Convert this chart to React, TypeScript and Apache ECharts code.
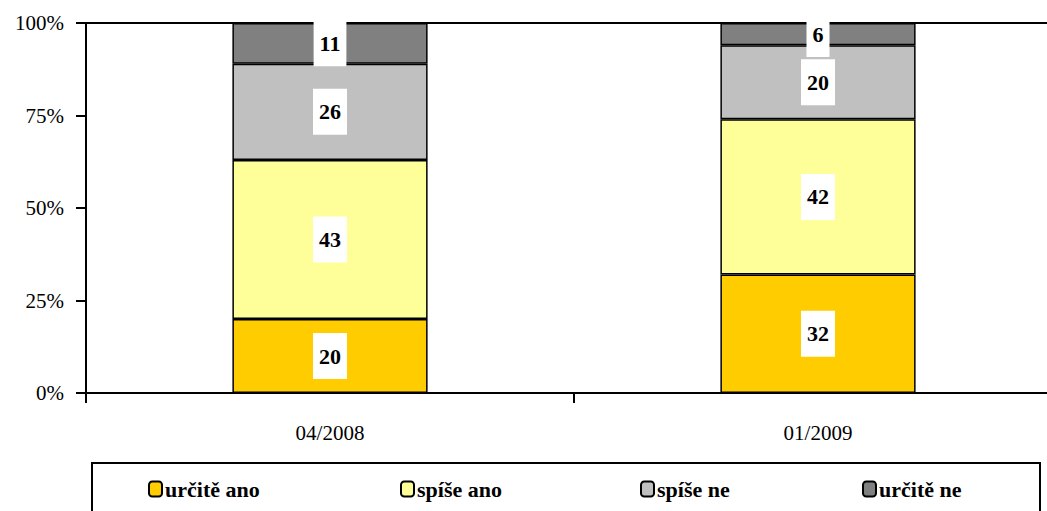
import React, { useEffect, useRef } from "react";
import * as echarts from "echarts";

const categories = ["04/2008", "01/2009"];
const seriesNames = ["určitě ano", "spíše ano", "spíše ne", "určitě ne"];
const urciteAno = [20, 32];
const spiseAno = [43, 42];
const spiseNe = [26, 20];
const urciteNe = [11, 6];
const yTicks = [0, 25, 50, 75, 100];

const colors = ["#FFCC00", "#FFFF99", "#C0C0C0", "#808080"];
const legendLefts = [148, 400, 640, 862];
const FONT = "Times New Roman, Liberation Serif, DejaVu Serif, serif";

export default function App() {
  const ref = useRef<HTMLDivElement>(null);
  useEffect(() => {
    if (!ref.current) return;
    const chart = echarts.init(ref.current, undefined, { renderer: "svg" });
    const values = [urciteAno, spiseAno, spiseNe, urciteNe];
    const option: any = {
      animation: false,
      backgroundColor: "#fff",
      textStyle: { fontFamily: FONT },
      grid: {
        left: 86,
        top: 23,
        right: -15,
        height: 370,
        outerBoundsMode: "none",
        containLabel: false,
        show: true,
        borderColor: "#000",
        borderWidth: 2,
        backgroundColor: "transparent",
      },
      xAxis: {
        type: "category",
        data: categories,
        axisLine: { show: true, lineStyle: { color: "#000", width: 2 } },
        axisTick: { show: true, length: 10, lineStyle: { color: "#000", width: 2 } },
        axisLabel: { color: "#000", fontFamily: FONT, fontSize: 21, margin: 29 },
        splitLine: { show: false },
      },
      yAxis: {
        type: "value",
        min: yTicks[0],
        max: yTicks[yTicks.length - 1],
        interval: 25,
        axisLine: { show: true, lineStyle: { color: "#000", width: 2 } },
        axisTick: { show: true, length: 10, lineStyle: { color: "#000", width: 2 } },
        axisLabel: {
          color: "#000",
          fontFamily: FONT,
          fontSize: 21,
          margin: 22,
          formatter: "{value}%",
        },
        splitLine: { show: false },
      },
      legend: seriesNames.map((name, i) => ({
        data: [name],
        left: legendLefts[i],
        top: 478,
        itemWidth: 13,
        itemHeight: 15,
        padding: 0,
        textStyle: {
          color: "#000",
          fontFamily: FONT,
          fontSize: 22,
          fontWeight: "bold",
          padding: [0, 0, 0, -2],
        },
      })),
      graphic: [
        {
          type: "rect",
          shape: { x: 92, y: 463, width: 948, height: 70 },
          style: { fill: "none", stroke: "#000", lineWidth: 2 },
          silent: true,
        },
      ],
      series: seriesNames.map((name, i) => ({
        name,
        type: "bar",
        stack: "total",
        barWidth: "40%",
        data: values[i],
        itemStyle: { color: colors[i], borderColor: "#000", borderWidth: 1.5 },
        label: {
          show: true,
          position: "inside",
          formatter: "{c}",
          color: "#000",
          fontFamily: FONT,
          fontSize: 22,
          fontWeight: "bold",
          backgroundColor: "#fff",
          padding: [12, 6],
        },
      })),
    };
    chart.setOption(option);
    return () => chart.dispose();
  }, []);
  return (
    <div
      ref={ref}
      style={{ position: "absolute", left: 0, top: 0, width: 1047, height: 511 }}
    />
  );
}
